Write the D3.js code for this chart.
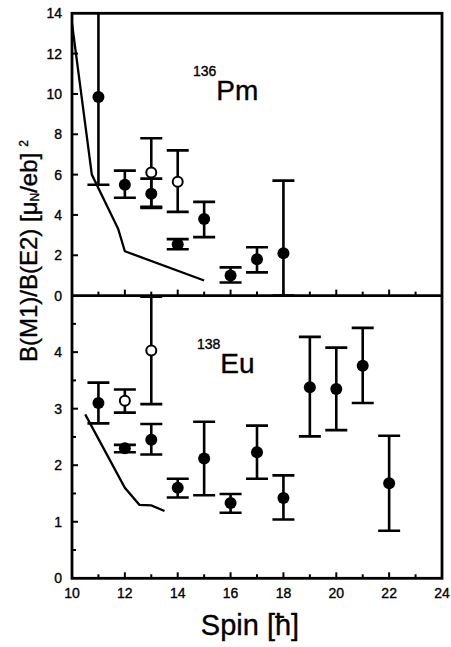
<!DOCTYPE html>
<html>
<head>
<meta charset="utf-8">
<script src="https://cdn.jsdelivr.net/npm/d3@7"></script>
<style>
  body { margin: 0; background: #fff; }
  text { font-family: "Liberation Sans", Arial, Helvetica, sans-serif; fill: #000; stroke: #000; stroke-width: 0.35; }
</style>
</head>
<body>
<svg id="chart" width="451" height="647"></svg>
<script>
// 136Pm panel: [spin, value, low, high]
const pmFilled = [
  [11, 9.85, 5.5, 14.5],
  [12, 5.5, 4.85, 6.2],
  [13, 5.05, 4.35, 5.8],
  [14, 2.55, 2.3, 2.8],
  [15, 3.8, 2.9, 4.65],
  [16, 1.0, 0.65, 1.4],
  [17, 1.8, 1.15, 2.4],
  [18, 2.1, 0, 5.7]
];
const pmOpen = [
  [13, 6.1, 4.4, 7.8],
  [14, 5.65, 4.15, 7.2]
];
const pmTheory = [[10, 13.5], [10.75, 6.0], [11.75, 3.3], [12, 2.2], [15, 0.75]];

// 138Eu panel
const euFilled = [
  [11, 3.1, 2.74, 3.46],
  [12, 2.3, 2.23, 2.36],
  [13, 2.45, 2.19, 2.73],
  [14, 1.6, 1.43, 1.76],
  [15, 2.12, 1.47, 2.77],
  [16, 1.33, 1.16, 1.49],
  [17, 2.23, 1.76, 2.7],
  [18, 1.42, 1.04, 1.82],
  [19, 3.38, 2.51, 4.27],
  [20, 3.35, 2.62, 4.08],
  [21, 3.76, 3.1, 4.43],
  [22, 1.68, 0.84, 2.52]
];
const euOpen = [
  [12, 3.14, 2.93, 3.34],
  [13, 4.03, 3.08, 4.98]
];
const euTheory = [[10.5, 2.9], [12, 1.6], [12.55, 1.3], [13, 1.29], [13.5, 1.19]];

const xTicks = d3.range(10, 25, 2);
const pmTicks = d3.range(0, 15, 2);
const euTicks = [0, 1, 2, 3, 4];

const plotLeft = 72, plotRight = 442, plotTop = 13.3, plotMid = 295.6, plotBottom = 578.3;

const svg = d3.select("#chart");
const x = d3.scaleLinear().domain([10, 24]).range([plotLeft, plotRight]);
const yPm = d3.scaleLinear().domain([0, 14]).range([plotMid, plotTop]);
const yEu = d3.scaleLinear().domain([0, 5]).range([plotBottom, plotMid]);

const defs = svg.append("defs");

function panel(name, y, filled, open, theory, majorY, minorY) {
  const r0 = y.range();
  defs.append("clipPath").attr("id", "clip-" + name)
    .append("rect")
    .attr("x", plotLeft).attr("y", r0[1])
    .attr("width", plotRight - plotLeft).attr("height", r0[0] - r0[1]);

  const g = svg.append("g").attr("clip-path", `url(#clip-${name})`);

  // theory curve
  g.append("path")
    .datum(theory)
    .attr("fill", "none")
    .attr("stroke", "#000")
    .attr("stroke-width", 2.3)
    .attr("d", d3.line().x(d => x(d[0])).y(d => y(d[1])));

  const all = filled.concat(open);
  // error bars
  g.selectAll(".bar").data(all).join("line")
    .attr("x1", d => x(d[0])).attr("x2", d => x(d[0]))
    .attr("y1", d => y(d[2])).attr("y2", d => y(d[3]))
    .attr("stroke", "#000").attr("stroke-width", 2.6);
  const caps = all.flatMap(d => [[d[0], d[2]], [d[0], d[3]]]);
  g.selectAll(".cap").data(caps).join("line")
    .attr("x1", d => x(d[0]) - 11).attr("x2", d => x(d[0]) + 11)
    .attr("y1", d => y(d[1])).attr("y2", d => y(d[1]))
    .attr("stroke", "#000").attr("stroke-width", 2.6);

  g.selectAll(".filled").data(filled).join("circle")
    .attr("cx", d => x(d[0])).attr("cy", d => y(d[1]))
    .attr("r", 6).attr("fill", "#000");
  g.selectAll(".open").data(open).join("circle")
    .attr("cx", d => x(d[0])).attr("cy", d => y(d[1]))
    .attr("r", 5).attr("fill", "#fff")
    .attr("stroke", "#000").attr("stroke-width", 2);

  // y ticks (inward)
  svg.append("g").selectAll("line").data(majorY).join("line")
    .attr("x1", plotLeft).attr("x2", plotLeft + 6)
    .attr("y1", d => y(d)).attr("y2", d => y(d))
    .attr("stroke", "#000").attr("stroke-width", 2);
  svg.append("g").selectAll("line").data(minorY).join("line")
    .attr("x1", plotLeft).attr("x2", plotLeft + 4)
    .attr("y1", d => y(d)).attr("y2", d => y(d))
    .attr("stroke", "#000").attr("stroke-width", 2);

  // x ticks on the bottom edge of the panel, pointing up
  svg.append("g").selectAll("line").data(d3.range(11, 24)).join("line")
    .attr("x1", d => x(d)).attr("x2", d => x(d))
    .attr("y1", r0[0]).attr("y2", d => r0[0] - (d % 2 === 0 ? 6 : 4))
    .attr("stroke", "#000").attr("stroke-width", 2);
}

panel("pm", yPm, pmFilled, pmOpen, pmTheory, pmTicks.slice(1, -1), []);
panel("eu", yEu, euFilled, euOpen, euTheory, [1, 2, 3, 4], [0.5, 1.5, 2.5, 3.5, 4.5]);

// frame
svg.append("rect")
  .attr("x", plotLeft).attr("y", plotTop)
  .attr("width", plotRight - plotLeft).attr("height", plotBottom - plotTop)
  .attr("fill", "none").attr("stroke", "#000").attr("stroke-width", 2.8);
svg.append("line")
  .attr("x1", plotLeft).attr("x2", plotRight)
  .attr("y1", plotMid).attr("y2", plotMid)
  .attr("stroke", "#000").attr("stroke-width", 2.8);

// tick labels
svg.append("g").selectAll("text").data(pmTicks).join("text")
  .attr("x", 62).attr("y", d => yPm(d) + 5)
  .attr("text-anchor", "end").attr("font-size", 14)
  .text(d => d);
svg.append("g").selectAll("text").data(euTicks).join("text")
  .attr("x", 62).attr("y", d => yEu(d) + 5)
  .attr("text-anchor", "end").attr("font-size", 14)
  .text(d => d);
svg.append("g").selectAll("text").data(xTicks).join("text")
  .attr("x", d => x(d)).attr("y", 598)
  .attr("text-anchor", "middle").attr("font-size", 14)
  .text(d => d);

// axis titles
svg.append("text")
  .attr("x", 250).attr("y", 635)
  .attr("text-anchor", "middle").attr("font-size", 29)
  .text("Spin [ħ]");

const yt = svg.append("text")
  .attr("transform", "translate(37,362) rotate(-90)")
  .attr("font-size", 24);
yt.append("tspan").text("B(M1)/B(E2) [μ");
yt.append("tspan").attr("font-size", 12).attr("dy", 2).text("N");
yt.append("tspan").attr("dy", -2).text("/eb]");
yt.append("tspan").attr("font-size", 12).attr("dy", -9).attr("dx", 6).text("2");

// nucleus labels
function nucleus(xs, ys, mass, sym) {
  const t = svg.append("text").attr("x", xs).attr("y", ys);
  t.append("tspan").attr("font-size", 14).attr("dy", -24).text(mass);
  t.append("tspan").attr("font-size", 28).attr("dy", 24).text(sym);
}
nucleus(x(10) + 121, 100, "136", "Pm");
nucleus(x(10) + 125, 373, "138", "Eu");
</script>
</body>
</html>
